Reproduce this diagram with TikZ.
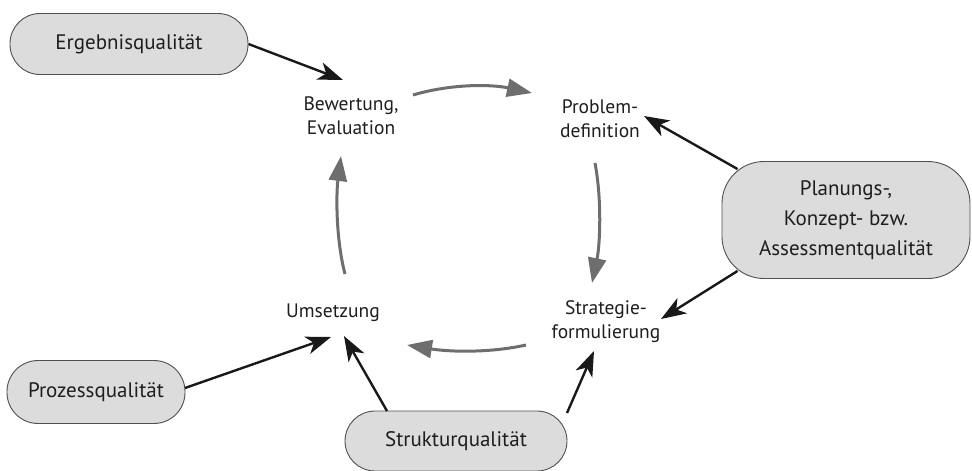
\documentclass[tikz,border=0pt]{standalone}
\usepackage{fontspec}
\setmainfont{PT Sans}
\usetikzlibrary{arrows.meta}
\definecolor{boxfill}{HTML}{DCDCDC}
\definecolor{boxline}{HTML}{505050}
\definecolor{cyc}{HTML}{6E6E6E}
\definecolor{txt}{HTML}{1E1E1E}
\begin{document}
\begin{tikzpicture}[x=1pt,y=-1pt,
  qbox/.style={draw=boxline, line width=0.9pt, fill=boxfill, text=txt, font=\fontsize{21}{30}\selectfont, align=center, inner sep=0pt},
  lbl/.style={text=txt, font=\fontsize{19.5}{24}\selectfont, align=center, inner sep=0pt},
  cycarrow/.style={draw=cyc, line width=3pt, -{Triangle[length=25pt,width=18pt]}},
  blkarrow/.style={draw=black!90, line width=2.4pt, -{Stealth[length=25pt,width=18pt,inset=7pt]}}]
\useasboundingbox (0,0) rectangle (972,471);
% boxes
\node[qbox, minimum width=238pt, minimum height=61pt, rounded corners=30pt] (erg) at (129,44) {Ergebnisqualität};
\node[qbox, minimum width=248pt, minimum height=117pt, rounded corners=42pt] (plan) at (846,220) {Planungs-,\\Konzept- bzw.\\Assessmentqualität};
\node[qbox, minimum width=178pt, minimum height=63pt, rounded corners=31pt] (proz) at (96,392) {Prozessqualität};
\node[qbox, minimum width=222pt, minimum height=60pt, rounded corners=30pt] (struk) at (456,441) {Strukturqualität};
% labels
\node[lbl] (bew) at (351,116) {Bewertung,\\Evaluation};
\node[lbl] (prob) at (600,119) {Problem-\\definition};
\node[lbl] (strat) at (606,322) {Strategie-\\formulierung};
\node[lbl] (ums) at (333,313) {Umsetzung};
% cycle coordinates
\coordinate (c1s) at (413,95); \coordinate (c1e) at (532,93);
\coordinate (c2s) at (595,163); \coordinate (c2e) at (592,283);
\coordinate (c3s) at (526,345); \coordinate (c3e) at (407,345);
\coordinate (c4s) at (345,274); \coordinate (c4e) at (341,156);
\draw[cycarrow] (c1s) .. controls (450,84) and (490,84) .. (c1e);
\draw[cycarrow] (c2s) .. controls (602,200) and (600,245) .. (c2e);
\draw[cycarrow] (c3s) .. controls (490,353) and (450,352) .. (c3e);
\draw[cycarrow] (c4s) .. controls (336,240) and (336,195) .. (c4e);
% black arrows
\coordinate (t1) at (343,80);
\coordinate (t2) at (644,116);
\coordinate (t3) at (661,319);
\coordinate (t4) at (331,337);
\coordinate (t5) at (344,336);
\coordinate (t6) at (594,351);
\draw[blkarrow] (erg.east) -- (t1);
\draw[blkarrow] (plan.north west) ++(16,8) coordinate (p1) -- (t2);
\draw[blkarrow] (plan.south west) ++(16,-8) coordinate (p2) -- (t3);
\coordinate (pz) at (185,388);
\draw[blkarrow] (pz) -- (t4);
\coordinate (s1) at (387,411);
\coordinate (s2) at (567,413);
\draw[blkarrow] (s1) -- (t5);
\draw[blkarrow] (s2) -- (t6);
\end{tikzpicture}
\end{document}
